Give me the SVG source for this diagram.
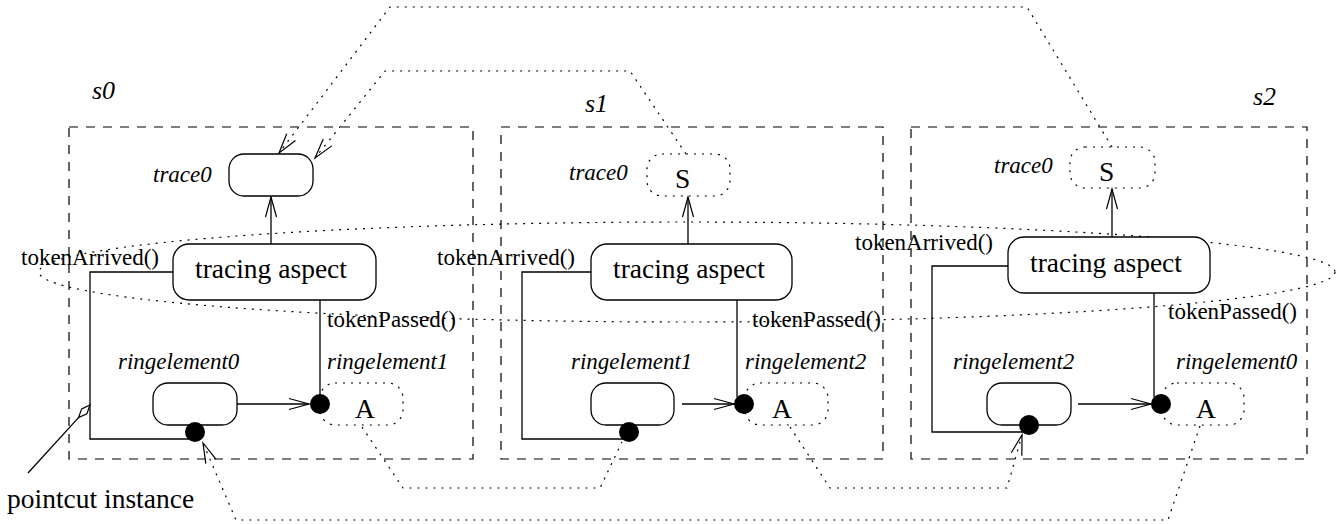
<svg xmlns="http://www.w3.org/2000/svg" width="1340" height="524" viewBox="0 0 1340 524">
<style>
.bg{fill:#fff}
.frame{fill:none;stroke:#000;stroke-width:1.2;stroke-dasharray:9 8}
.node{fill:#fff;stroke:#000;stroke-width:1.3}
.dnode{fill:none;stroke:#000;stroke-width:1.2;stroke-dasharray:2 6}
.solid{fill:none;stroke:#000;stroke-width:1.3}
.dot{fill:none;stroke:#000;stroke-width:1.2;stroke-dasharray:2 6}
.blk{fill:#000}
.lbl{font-family:"Liberation Serif","Times New Roman",serif;font-size:23px;fill:#000}
.it{font-style:italic}
.big{font-family:"Liberation Serif","Times New Roman",serif;font-size:27.5px;fill:#000}
.st{font-family:"Liberation Serif","Times New Roman",serif;font-size:26px;font-style:italic;fill:#000}
</style>
<defs>
<marker id="open" markerUnits="userSpaceOnUse" markerWidth="24" markerHeight="16" refX="20" refY="8" orient="auto" overflow="visible">
<path d="M0,2.5 L20,8 L0,13.5" fill="none" stroke="#000" stroke-width="1.2"/>
</marker>
</defs>
<rect class="bg" x="0" y="0" width="1340" height="524"/>

<g id="s0">
<rect class="frame" x="69" y="127" width="404" height="332"/>
<text class="st" x="92" y="99">s0</text>
</g>
<g id="s1">
<rect class="frame" x="501" y="127" width="382" height="332"/>
<text class="st" x="585" y="112">s1</text>
</g>
<g id="s2">
<rect class="frame" x="911" y="127" width="396" height="332"/>
<text class="st" x="1253" y="105">s2</text>
</g>

<g id="connectors">
<!-- pointcut ellipse -->
<ellipse class="dot" cx="687" cy="272" rx="648" ry="50"/>
<!-- s0 internal -->
<line class="solid" x1="271" y1="244" x2="271" y2="197" marker-end="url(#open)"/>
<polyline class="solid" points="173,272 90,272 90,439 195,439"/>
<line class="solid" x1="320" y1="300" x2="320" y2="396"/>
<line class="solid" x1="237" y1="404" x2="309" y2="404" marker-end="url(#open)"/>
<!-- s1 internal -->
<line class="solid" x1="688" y1="244" x2="688" y2="197" marker-end="url(#open)"/>
<polyline class="solid" points="591,272 522,272 522,439 629,439"/>
<line class="solid" x1="737" y1="300" x2="737" y2="397"/>
<line class="solid" x1="682" y1="404" x2="734" y2="404" marker-end="url(#open)"/>
<!-- s2 internal -->
<line class="solid" x1="1112" y1="237" x2="1112" y2="189" marker-end="url(#open)"/>
<polyline class="solid" points="1008,266 932,266 932,432 1029,432"/>
<line class="solid" x1="1154" y1="293" x2="1154" y2="397"/>
<line class="solid" x1="1078" y1="404" x2="1151" y2="404" marker-end="url(#open)"/>
<!-- dotted cross-state links -->
<path class="dot" d="M1112,147 L1027,7 H390 L279,153" marker-end="url(#open)"/>
<path class="dot" d="M686,154 L630,71 H385 L315,158" marker-end="url(#open)"/>
<path class="dot" d="M362,427 L403,488 H600 L622,442"/>
<path class="dot" d="M790,427 L830,488 H1007 L1022,435" marker-end="url(#open)"/>
<path class="dot" d="M1200,426 L1168,520 H236 L203,443" marker-end="url(#open)"/>
<!-- pointcut instance pointer -->
<line class="solid" x1="28" y1="473" x2="78.5" y2="417.6"/>
<polygon points="90,405 86.9,413.7 78.5,417.6 81.7,408.9" fill="#fff" stroke="#000" stroke-width="1.2"/>
</g>

<g id="s0_trace0">
<rect class="node" x="229" y="154" width="84" height="42" rx="15"/>
<text class="lbl it" x="153" y="182">trace0</text>
</g>
<g id="s0_aspect">
<rect class="node" x="173" y="244" width="203" height="56" rx="16"/>
<text class="big" x="195" y="278">tracing aspect</text>
</g>
<g id="s0_ring0">
<rect class="node" x="153" y="383" width="84" height="42" rx="15"/>
<text class="lbl it" x="118" y="369">ringelement0</text>
<circle class="blk" cx="195" cy="432" r="10"/>
</g>
<g id="s0_ring1">
<rect class="dnode" x="320" y="383" width="83" height="42" rx="15"/>
<circle class="blk" cx="320" cy="404" r="10"/>
<text class="lbl it" x="327" y="369">ringelement1</text>
<text class="big" x="355" y="418">A</text>
</g>

<g id="s1_trace0">
<rect class="dnode" x="647" y="154" width="83" height="42" rx="15"/>
<text class="lbl it" x="569" y="180">trace0</text>
<text class="big" x="675" y="188">S</text>
</g>
<g id="s1_aspect">
<rect class="node" x="591" y="244" width="201" height="56" rx="16"/>
<text class="big" x="613" y="278">tracing aspect</text>
</g>
<g id="s1_ring1">
<rect class="node" x="591" y="383" width="83" height="42" rx="15"/>
<text class="lbl it" x="571" y="369">ringelement1</text>
<circle class="blk" cx="629" cy="432" r="10"/>
</g>
<g id="s1_ring2">
<rect class="dnode" x="745" y="383" width="83" height="42" rx="15"/>
<circle class="blk" cx="744" cy="404" r="10"/>
<text class="lbl it" x="745" y="369">ringelement2</text>
<text class="big" x="772" y="418">A</text>
</g>

<g id="s2_trace0">
<rect class="dnode" x="1070" y="147" width="85" height="41" rx="15"/>
<text class="lbl it" x="994" y="173">trace0</text>
<text class="big" x="1099" y="181">S</text>
</g>
<g id="s2_aspect">
<rect class="node" x="1008" y="237" width="202" height="56" rx="16"/>
<text class="big" x="1030" y="272">tracing aspect</text>
</g>
<g id="s2_ring2">
<rect class="node" x="987" y="383" width="84" height="42" rx="15"/>
<text class="lbl it" x="953" y="369">ringelement2</text>
<circle class="blk" cx="1029" cy="425" r="10"/>
</g>
<g id="s2_ring0">
<rect class="dnode" x="1162" y="383" width="82" height="42" rx="15"/>
<circle class="blk" cx="1161" cy="404" r="10"/>
<text class="lbl it" x="1176" y="369">ringelement0</text>
<text class="big" x="1196" y="418">A</text>
</g>

<g id="labels">
<text class="lbl" x="21" y="265">tokenArrived()</text>
<text class="lbl" x="437" y="265">tokenArrived()</text>
<text class="lbl" x="855" y="250">tokenArrived()</text>
<text class="lbl" x="327" y="327">tokenPassed()</text>
<text class="lbl" x="752" y="327">tokenPassed()</text>
<text class="lbl" x="1168" y="319">tokenPassed()</text>
<text class="big" x="7" y="508">pointcut instance</text>
</g>
</svg>
